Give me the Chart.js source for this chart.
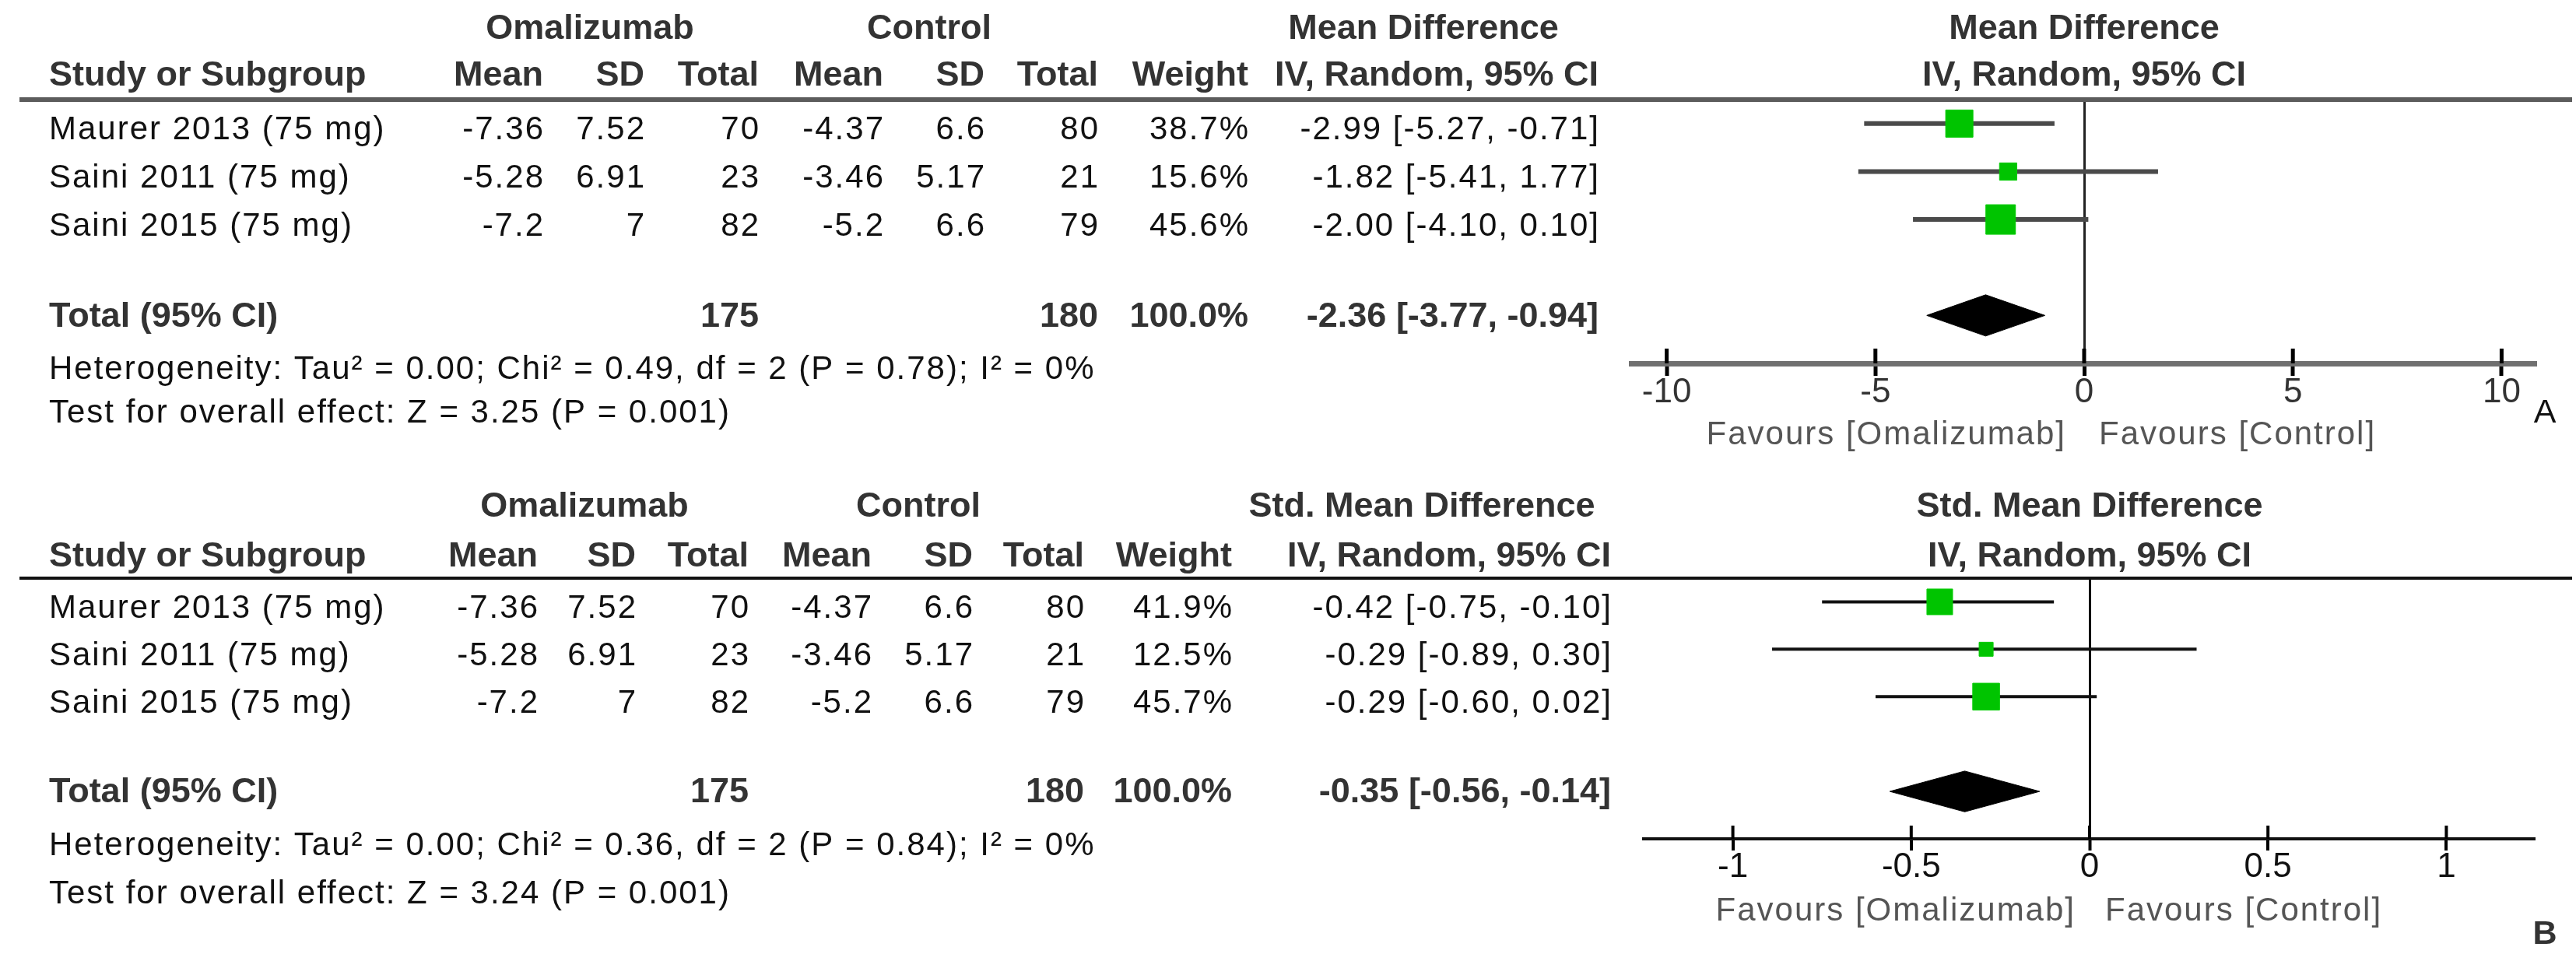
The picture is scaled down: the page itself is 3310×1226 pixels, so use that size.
<!DOCTYPE html>
<html>
<head>
<meta charset="utf-8">
<script src="https://cdn.jsdelivr.net/npm/chart.js@4.4.1/dist/chart.umd.min.js"></script>
<style>
html,body{margin:0;padding:0;background:#fff;}
#wrap{position:relative;width:3310px;height:1226px;background:#fff;}
canvas{position:absolute;left:0;display:block;}
</style>
</head>
<body>
<div id="wrap">
<canvas id="cA" width="3310" height="613" style="top:0px;width:3310px;height:613px"></canvas>
<canvas id="cB" width="3310" height="613" style="top:613px;width:3310px;height:613px"></canvas>
</div>
<script>
// ---------- data ----------
const studies = ['Maurer 2013 (75 mg)', 'Saini 2011 (75 mg)', 'Saini 2015 (75 mg)'];
const omMean = [-7.36, -5.28, -7.2];
const omSD = [7.52, 6.91, 7];
const omN = [70, 23, 82];
const ctlMean = [-4.37, -3.46, -5.2];
const ctlSD = [6.6, 5.17, 6.6];
const ctlN = [80, 21, 79];
const omTotal = 175;
const ctlTotal = 180;
const totalWeight = 100.0;

// Panel A: Mean Difference
const weightA = [38.7, 15.6, 45.6];
const estA = [-2.99, -1.82, -2.00];
const loA = [-5.27, -5.41, -4.10];
const hiA = [-0.71, 1.77, 0.10];
const totA = [-2.36, -3.77, -0.94];   // estimate, lower, upper
const hetA = [0.00, 0.49, 2, 0.78, 0]; // Tau2, Chi2, df, P, I2
const effA = [3.25, 0.001];           // Z, P
const ticksA = [-10, -5, 0, 5, 10];
const tickLabelsA = ['-10', '-5', '0', '5', '10'];

// Panel B: Std. Mean Difference
const weightB = [41.9, 12.5, 45.7];
const estB = [-0.42, -0.29, -0.29];
const loB = [-0.75, -0.89, -0.60];
const hiB = [-0.10, 0.30, 0.02];
const totB = [-0.35, -0.56, -0.14];
const hetB = [0.00, 0.36, 2, 0.84, 0];
const effB = [3.24, 0.001];
const ticksB = [-1, -0.5, 0, 0.5, 1];
const tickLabelsB = ['-1', '-0.5', '0', '0.5', '1'];

// ---------- drawing ----------
const FONT = '"Liberation Sans", Arial, sans-serif';
const REG_SIZE = 42, BOLD_SIZE = 45, SPACING = 2.0;
const f2 = v => v.toFixed(2);
const ciStr = (e, l, h) => f2(e) + ' [' + f2(l) + ', ' + f2(h) + ']';

function txt(ctx, s, x, y, align, bold, color, size) {
  const sz = size || (bold ? BOLD_SIZE : REG_SIZE);
  ctx.font = (bold ? 'bold ' : '') + sz + 'px ' + FONT;
  const sp = bold ? 0 : SPACING;
  ctx.letterSpacing = sp + 'px';
  ctx.textAlign = align;
  ctx.textBaseline = 'middle';
  ctx.fillStyle = color || (bold ? '#333' : '#111');
  let xx = x;
  if (align === 'right') xx = x + sp;
  if (align === 'center') xx = x + sp / 2;
  ctx.fillText(s, xx, y);
  ctx.letterSpacing = '0px';
}

function makePanel(canvasId, P) {
  const rows = P.est.map((v, i) => i + 1);
  const totalRow = 5;
  const datasets = [];
  P.est.forEach((v, i) => {
    datasets.push({
      type: 'line',
      data: [{x: P.lo[i], y: rows[i]}, {x: P.hi[i], y: rows[i]}],
      borderColor: P.ciColor, borderWidth: P.ciWidth,
      pointRadius: 0, fill: false, tension: 0, order: 3
    });
  });
  datasets.push({
    type: 'scatter',
    data: P.est.map((v, i) => ({x: v, y: rows[i]})),
    pointStyle: 'rect',
    pointRadius: P.weight.map(w => P.sqK * Math.sqrt(w) / Math.SQRT2),
    backgroundColor: '#00c400', borderColor: '#00cc00', borderWidth: 1,
    order: 1
  });
  const h = 0.43;
  datasets.push({
    type: 'line',
    data: [
      {x: P.tot[1], y: totalRow}, {x: P.tot[0], y: totalRow - h},
      {x: P.tot[2], y: totalRow}, {x: P.tot[0], y: totalRow + h},
      {x: P.tot[1], y: totalRow}
    ],
    borderColor: '#000', borderWidth: 1, backgroundColor: '#000',
    fill: 'shape', pointRadius: 0, tension: 0, order: 2
  });

  const table = {
    id: 'table' + canvasId,
    afterDraw(chart) {
      const ctx = chart.ctx, ca = chart.chartArea, ys = chart.scales.y, xs = chart.scales.x;
      ctx.save();
      // header rule
      ctx.strokeStyle = P.headColor; ctx.lineWidth = P.headWidth;
      ctx.beginPath(); ctx.moveTo(25, ca.top); ctx.lineTo(3305, ca.top); ctx.stroke();
      // upward tick marks
      ctx.strokeStyle = '#000'; ctx.lineWidth = P.tickWidth;
      xs.ticks.forEach(t => {
        const px = xs.getPixelForValue(t.value);
        ctx.beginPath(); ctx.moveTo(px, ca.bottom); ctx.lineTo(px, ca.bottom - P.tickUp); ctx.stroke();
      });
      const C = P.cols;
      const yG = ca.top + P.dyGroup, yH = ca.top + P.dyHead;
      const zeroPx = xs.getPixelForValue(0);
      // group headers
      txt(ctx, 'Omalizumab', C.omGroup, yG, 'center', true);
      txt(ctx, 'Control', C.ctlGroup, yG, 'center', true);
      txt(ctx, P.measure, C.ciGroup, yG, 'center', true);
      txt(ctx, P.measure, zeroPx, yG, 'center', true);
      // column headers
      txt(ctx, 'Study or Subgroup', 63, yH, 'left', true);
      txt(ctx, 'Mean', C.omMean, yH, 'right', true);
      txt(ctx, 'SD', C.omSD, yH, 'right', true);
      txt(ctx, 'Total', C.omN, yH, 'right', true);
      txt(ctx, 'Mean', C.ctlMean, yH, 'right', true);
      txt(ctx, 'SD', C.ctlSD, yH, 'right', true);
      txt(ctx, 'Total', C.ctlN, yH, 'right', true);
      txt(ctx, 'Weight', C.weight, yH, 'right', true);
      txt(ctx, 'IV, Random, 95% CI', C.ci, yH, 'right', true);
      txt(ctx, 'IV, Random, 95% CI', zeroPx, yH, 'center', true);
      // study rows
      studies.forEach((s, i) => {
        const y = ys.getPixelForValue(rows[i]) + P.dyRow;
        txt(ctx, s, 63, y, 'left', false);
        txt(ctx, String(omMean[i]), C.omMean, y, 'right', false);
        txt(ctx, String(omSD[i]), C.omSD, y, 'right', false);
        txt(ctx, String(omN[i]), C.omN, y, 'right', false);
        txt(ctx, String(ctlMean[i]), C.ctlMean, y, 'right', false);
        txt(ctx, String(ctlSD[i]), C.ctlSD, y, 'right', false);
        txt(ctx, String(ctlN[i]), C.ctlN, y, 'right', false);
        txt(ctx, P.weight[i].toFixed(1) + '%', C.weight, y, 'right', false);
        txt(ctx, ciStr(P.est[i], P.lo[i], P.hi[i]), C.ci, y, 'right', false);
      });
      // total row
      const yT = ys.getPixelForValue(totalRow) + P.dyTotal;
      txt(ctx, 'Total (95% CI)', 63, yT, 'left', true);
      txt(ctx, String(omTotal), C.omN, yT, 'right', true);
      txt(ctx, String(ctlTotal), C.ctlN, yT, 'right', true);
      txt(ctx, totalWeight.toFixed(1) + '%', C.weight, yT, 'right', true);
      txt(ctx, ciStr(P.tot[0], P.tot[1], P.tot[2]), C.ci, yT, 'right', true);
      // footnotes
      const het = P.het;
      txt(ctx, 'Heterogeneity: Tau\u00b2 = ' + het[0].toFixed(2) + '; Chi\u00b2 = ' + het[1].toFixed(2) +
        ', df = ' + het[2] + ' (P = ' + het[3].toFixed(2) + '); I\u00b2 = ' + het[4] + '%',
        63, ca.bottom + P.dyHet, 'left', false);
      txt(ctx, 'Test for overall effect: Z = ' + P.eff[0].toFixed(2) + ' (P = ' + P.eff[1].toFixed(3) + ')',
        63, ca.bottom + P.dyTest, 'left', false);
      // favours labels
      const yF = ca.bottom + P.dyFav;
      txt(ctx, 'Favours [Omalizumab]', zeroPx - P.favGapL, yF, 'right', false, '#555');
      txt(ctx, 'Favours [Control]', zeroPx + P.favGapR, yF, 'left', false, '#555');
      // panel letter
      txt(ctx, P.letter, 3270, P.letterY, 'center', P.letterBold, P.letterBold ? '#333' : '#111', 43);
      ctx.restore();
    }
  };

  return new Chart(document.getElementById(canvasId), {
    type: 'scatter',
    data: {datasets},
    options: {
      responsive: false, animation: false, devicePixelRatio: 1,
      layout: {padding: {left: P.left, right: 3310 - P.right, top: P.top, bottom: 0}},
      plugins: {legend: {display: false}, tooltip: {enabled: false}, title: {display: false}},
      scales: {
        x: {
          type: 'linear', position: 'bottom', min: P.xmin, max: P.xmax,
          afterBuildTicks: s => { s.ticks = P.ticks.map(v => ({value: v})); },
          afterFit: s => { s.height = 613 - P.bottom; },
          ticks: {
            callback: (v, i) => P.tickLabels[i],
            autoSkip: false, maxRotation: 0, padding: 0,
            color: P.tickColor,
            font: {family: FONT, size: 44, lineHeight: 1}
          },
          grid: {
            color: c => (c.tick && c.tick.value === 0) ? P.zeroColor : 'rgba(0,0,0,0)',
            lineWidth: c => (c.tick && c.tick.value === 0) ? P.zeroWidth : 0,
            drawOnChartArea: true, drawTicks: true, tickLength: P.tickDown,
            tickColor: '#000', tickWidth: P.tickWidth
          },
          border: {display: true, color: P.axisColor, width: P.axisWidth}
        },
        y: {type: 'linear', display: false, min: 0.5, max: 6, reverse: true}
      }
    },
    plugins: [table]
  });
}

makePanel('cA', {
  est: estA, lo: loA, hi: hiA, weight: weightA, tot: totA, het: hetA, eff: effA,
  ticks: ticksA, tickLabels: tickLabelsA, measure: 'Mean Difference',
  xmin: -10.85, xmax: 10.85, left: 2096, right: 3260, top: 128, bottom: 467,
  sqK: 5.63, ciColor: '#4a4a4a', ciWidth: 6,
  headColor: '#5c5c5c', headWidth: 6,
  axisColor: '#707070', axisWidth: 7, zeroColor: '#222', zeroWidth: 3,
  tickWidth: 5, tickUp: 19, tickDown: 16, tickColor: '#333',
  cols: {omGroup: 758, ctlGroup: 1194, ciGroup: 1829, omMean: 698, omSD: 828, omN: 975,
         ctlMean: 1135, ctlSD: 1265, ctlN: 1411, weight: 1604, ci: 2054},
  dyGroup: -90, dyHead: -30, dyRow: 9, dyTotal: 2, dyHet: 8, dyTest: 64, dyFav: 92,
  favGapL: 25, favGapR: 19, letter: 'A', letterY: 531, letterBold: false
});

makePanel('cB', {
  est: estB, lo: loB, hi: hiB, weight: weightB, tot: totB, het: hetB, eff: effB,
  ticks: ticksB, tickLabels: tickLabelsB, measure: 'Std. Mean Difference',
  xmin: -1.25, xmax: 1.25, left: 2112, right: 3258, top: 130, bottom: 465,
  sqK: 5.1, ciColor: '#111', ciWidth: 4,
  headColor: '#111', headWidth: 4,
  axisColor: '#111', axisWidth: 4, zeroColor: '#111', zeroWidth: 3,
  tickWidth: 4, tickUp: 17, tickDown: 15, tickColor: '#111',
  cols: {omGroup: 751, ctlGroup: 1180, ciGroup: 1827, omMean: 691, omSD: 817, omN: 962,
         ctlMean: 1120, ctlSD: 1250, ctlN: 1393, weight: 1583, ci: 2070},
  dyGroup: -91, dyHead: -27, dyRow: 9, dyTotal: 2, dyHet: 9, dyTest: 71, dyFav: 93,
  favGapL: 20, favGapR: 20, letter: 'B', letterY: 588, letterBold: true
});
</script>
</body>
</html>
